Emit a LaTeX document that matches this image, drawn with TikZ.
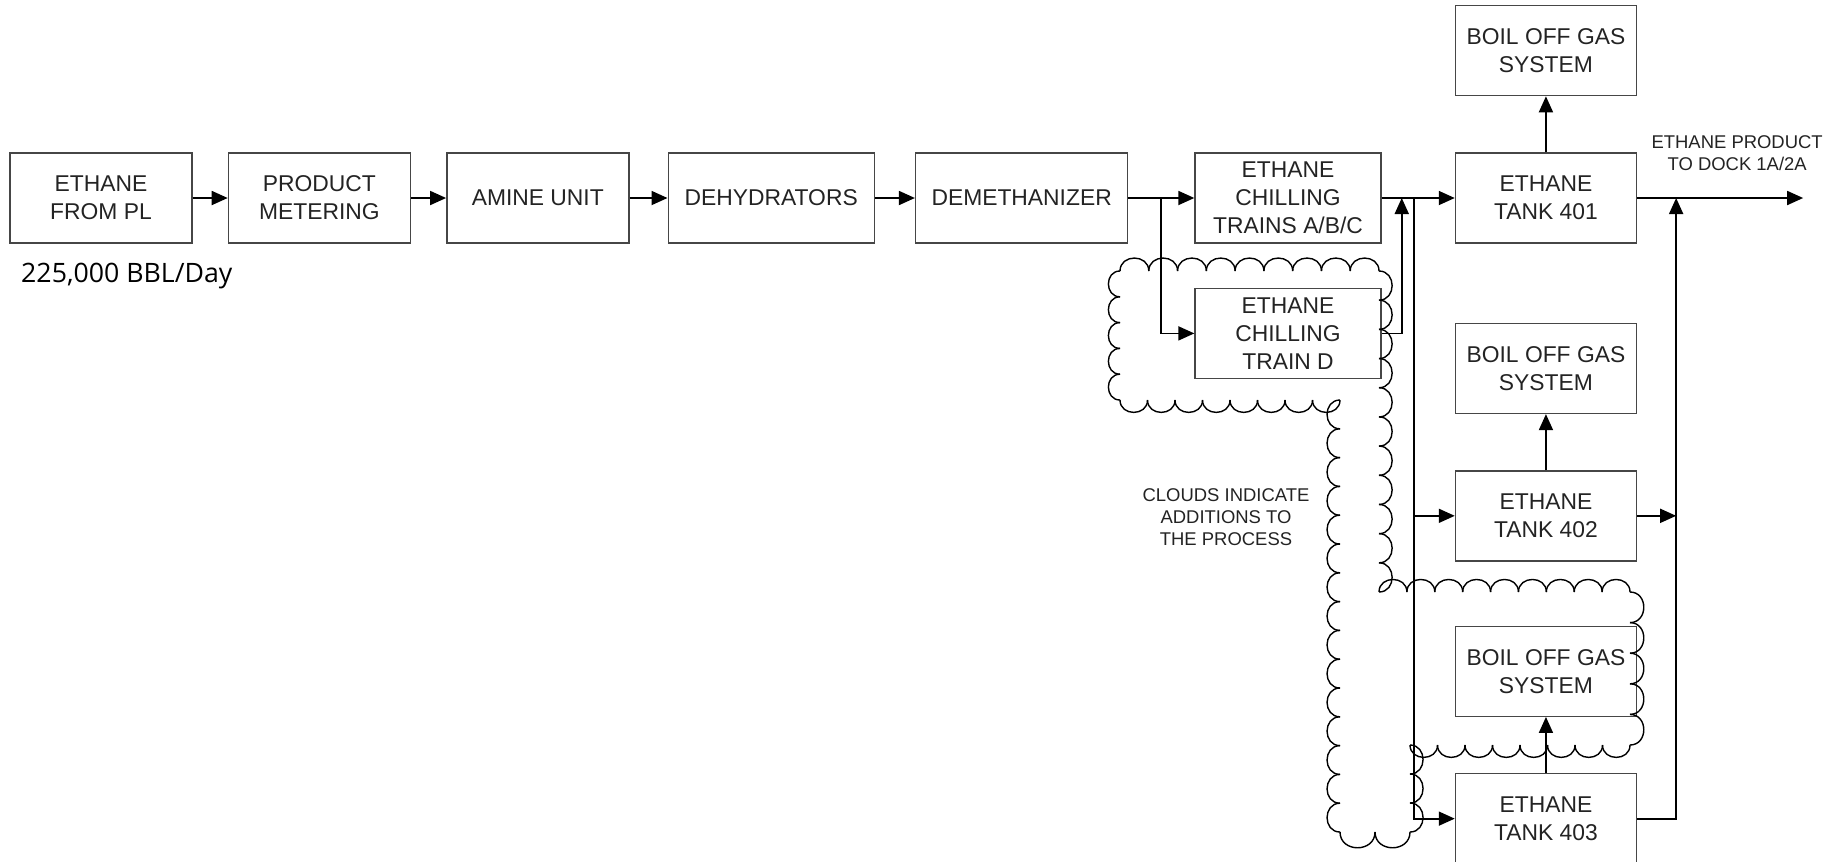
\documentclass[tikz,border=0pt]{standalone}
\usepackage{fontspec}
\setmainfont{Liberation Sans}
\newfontfamily\ratefont{Open Sans}
\usetikzlibrary{positioning}
\usetikzlibrary{arrows.meta}
\usetikzlibrary{calc}
\definecolor{boxline}{RGB}{70,70,70}
\definecolor{textdark}{RGB}{35,35,35}

\begin{document}
\begin{tikzpicture}[
    node distance=0.7cm and 0.7cm,
    procbox/.style={rectangle, draw=boxline, line width=0.8pt, minimum height=1.8cm, inner sep=1pt, align=center, text=textdark, font=\fontsize{13}{16}\selectfont},
    tankbox/.style={procbox, minimum width=3.62cm},
    arrow/.style={-{Triangle[length=3.2mm, width=2.8mm]}, line width=1pt},
    cloudline/.style={line width=0.8pt},
    notetext/.style={align=center, text=textdark, font=\fontsize{10.5}{12.5}\selectfont},
    ratetext/.style={text=black, font=\ratefont\fontsize{15.2}{18}\selectfont}
]
\useasboundingbox (0,0) rectangle (36.78,-17.22);

% Main process line
\node[procbox, minimum width=3.64cm] (ethpl) at (2.02,-3.96) {ETHANE\\FROM PL};
\node[procbox, minimum width=3.64cm, right=0.7cm of ethpl] (meter) {PRODUCT\\METERING};
\node[procbox, minimum width=3.64cm, right=0.7cm of meter] (amine) {AMINE UNIT};
\node[procbox, minimum width=4.12cm, right=0.76cm of amine] (dehyd) {DEHYDRATORS};
\node[procbox, minimum width=4.24cm, right=0.8cm of dehyd] (demeth) {DEMETHANIZER};

% Chilling trains
\node[procbox, minimum width=3.72cm, right=1.32cm of demeth] (chillabc) {ETHANE\\CHILLING\\TRAINS A/B/C};
\node[procbox, minimum width=3.72cm, below=0.88cm of chillabc] (chilld) {ETHANE\\CHILLING\\TRAIN D};

% Tanks and boil off gas
\node[tankbox, right=1.46cm of chillabc] (tank401) {ETHANE\\TANK 401};
\node[tankbox, above=1.12cm of tank401] (bog401) {BOIL OFF GAS\\SYSTEM};
\node[tankbox, below=1.58cm of tank401] (bog402) {BOIL OFF GAS\\SYSTEM};
\node[tankbox, below=1.12cm of bog402] (tank402) {ETHANE\\TANK 402};
\node[tankbox, below=1.28cm of tank402] (bog403) {BOIL OFF GAS\\SYSTEM};
\node[tankbox, below=1.12cm of bog403] (tank403) {ETHANE\\TANK 403};

% Process arrows
\draw[arrow] (ethpl) -- (meter);
\draw[arrow] (meter) -- (amine);
\draw[arrow] (amine) -- (dehyd);
\draw[arrow] (dehyd) -- (demeth);
\draw[arrow] (demeth) -- (chillabc);
\coordinate (feedsplit) at ($(demeth.east)!0.5!(chillabc.west)$);
\draw[arrow] (feedsplit) |- (chilld);
\draw[arrow] (chillabc) -- (tank401);
\coordinate[right=0.4cm of chillabc.east] (trainmerge);
\draw[arrow] (chilld.east) -| (trainmerge);
\coordinate[right=0.64cm of chillabc.east] (tanksplit);
\draw[arrow] (tanksplit) |- (tank402);
\draw[arrow] (tanksplit) |- (tank403);

% Boil off gas
\draw[arrow] (tank401) -- (bog401);
\draw[arrow] (tank402) -- (bog402);
\draw[arrow] (tank403) -- (bog403);

% Product out
\coordinate[right=3.32cm of tank401.east] (dock);
\draw[arrow] (tank401) -- (dock);
\coordinate[right=0.78cm of tank401.east] (collect);
\draw[arrow] (tank402.east) -- (tank402.east -| collect);
\draw[arrow] (tank403.east) -| (collect);

% Labels
\node[ratetext, anchor=base west] (rate) at (0.3,-5.64) {225,000 BBL/Day};
\node[notetext] (docknote) at ($(tank401.east)+(2.0,0.9)$) {ETHANE PRODUCT\\TO DOCK 1A/2A};
\node[notetext] (cloudnote) at (24.52,-10.34) {CLOUDS INDICATE\\ADDITIONS TO\\THE PROCESS};

% Cloud outline
\coordinate (c1) at (22.40,-5.42);
\coordinate (c2) at (27.58,-5.42);
\coordinate (c3) at (27.58,-11.84);
\coordinate (c4) at (32.60,-11.84);
\coordinate (c5) at (32.60,-14.90);
\coordinate (c6) at (28.20,-14.90);
\coordinate (c7) at (28.20,-16.64);
\coordinate (c8) at (26.80,-16.64);
\coordinate (c9) at (26.80,-8.00);
\coordinate (c10) at (22.40,-8.00);
\foreach \a/\b/\nb in {c1/c2/9, c2/c3/11, c3/c4/9, c4/c5/5, c5/c6/8, c6/c7/3, c7/c8/2, c8/c9/15, c9/c10/8, c10/c1/5}{
  \foreach \i in {1,...,\nb}{
    \pgfmathsetmacro\fa{(\i-1)/\nb}
    \pgfmathsetmacro\fb{\i/\nb}
    \coordinate (bp) at ($(\a)!\fa!(\b)$);
    \coordinate (bq) at ($(\a)!\fb!(\b)$);
    \draw[cloudline] (bp) .. controls ($(bp)!0.6!90:(bq)$) and ($(bq)!0.6!-90:(bp)$) .. (bq);
  }
}

\end{tikzpicture}
\end{document}
